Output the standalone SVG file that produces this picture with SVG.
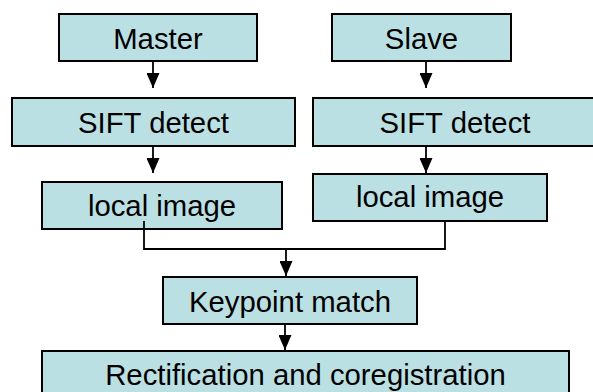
<svg xmlns="http://www.w3.org/2000/svg" width="593" height="392" viewBox="0 0 593 392">
  <style>
    .box { fill: #BBE0E3; stroke: #000; stroke-width: 2; }
    .lbl { font-family: "Liberation Sans", Arial, sans-serif; font-size: 29.3px; fill: #000; text-anchor: middle; }
    .wire { fill: none; stroke: #000; stroke-width: 1.8; }
  </style>
  <defs>
    <marker id="ah" viewBox="0 0 15 13" markerWidth="15" markerHeight="13" refX="15" refY="6.5" orient="auto" markerUnits="userSpaceOnUse">
      <path d="M0,0 L15,6.5 L0,13 Z" fill="#000"/>
    </marker>
  </defs>
  <rect width="593" height="392" fill="#fff"/>

  <g id="master">
    <rect class="box" x="59" y="14" width="198" height="47"/>
    <text class="lbl" x="158" y="48.5">Master</text>
  </g>
  <g id="slave">
    <rect class="box" x="332" y="14" width="179" height="47"/>
    <text class="lbl" x="421.5" y="48.5">Slave</text>
  </g>
  <g id="sift-left">
    <rect class="box" x="12" y="98" width="283" height="48"/>
    <text class="lbl" x="153.5" y="132.5">SIFT detect</text>
  </g>
  <g id="sift-right">
    <rect class="box" x="313" y="98" width="284" height="48"/>
    <text class="lbl" x="455" y="132.5">SIFT detect</text>
  </g>
  <g id="local-left">
    <rect class="box" x="42" y="182" width="240" height="47"/>
    <text class="lbl" x="162" y="216">local image</text>
  </g>
  <g id="local-right">
    <rect class="box" x="313" y="174" width="234" height="47"/>
    <text class="lbl" x="430" y="207">local image</text>
  </g>
  <g id="keypoint">
    <rect class="box" x="163" y="277" width="254" height="47"/>
    <text class="lbl" x="290" y="311.5">Keypoint match</text>
  </g>
  <g id="rectification">
    <rect class="box" x="42" y="351" width="527" height="47"/>
    <text class="lbl" x="305.5" y="384.5">Rectification and coregistration</text>
  </g>

  <g id="connectors">
    <path class="wire" d="M153,61 V88" marker-end="url(#ah)"/>
    <path class="wire" d="M426,61 V88" marker-end="url(#ah)"/>
    <path class="wire" d="M153,146 V173" marker-end="url(#ah)"/>
    <path class="wire" d="M426,146 V173" marker-end="url(#ah)"/>
    <path class="wire" d="M144,221 V249 H445 V221"/>
    <path class="wire" d="M286,249 V276" marker-end="url(#ah)"/>
    <path class="wire" d="M285,324 V350" marker-end="url(#ah)"/>
  </g>
</svg>
